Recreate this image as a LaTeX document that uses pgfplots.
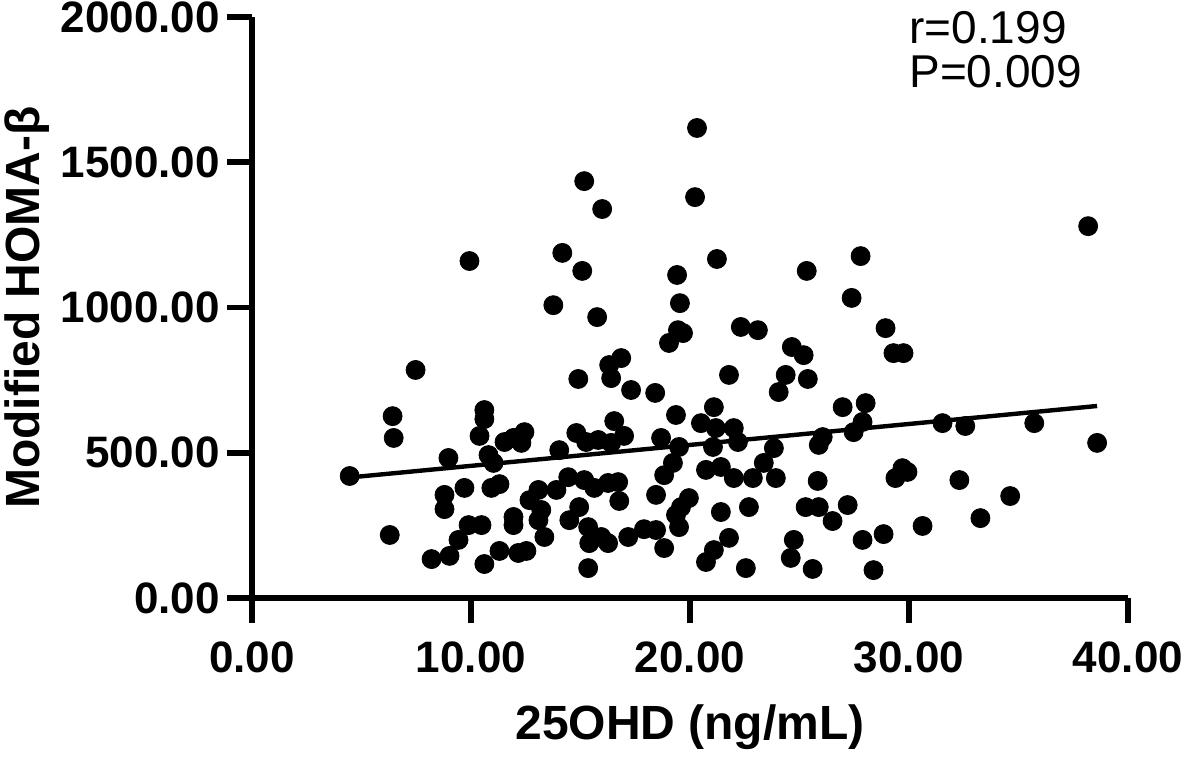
\documentclass[border=0pt]{standalone}
\usepackage{pgfplots}
\pgfplotsset{compat=1.18}
\usepackage{fontspec}
\setmainfont{Liberation Sans}
\begin{document}
\begin{tikzpicture}
\useasboundingbox (-126pt,-79.5pt) rectangle (464.5pt,299pt);
\begin{axis}[
  at={(0,0)}, anchor=south west,
  scale only axis, width=438pt, height=290.5pt,
  xmin=0, xmax=40, ymin=0, ymax=2000,
  axis x line=bottom, axis y line=left,
  axis line style={-, line width=2.8pt},
  xtick={0,10,20,30,40}, xticklabels={0.00,10.00,20.00,30.00,40.00},
  ytick={0,500,1000,1500,2000}, yticklabels={0.00,500.00,1000.00,1500.00,2000.00},
  tick align=outside, major tick length=12.5pt,
  tick style={line width=2.8pt, black},
  ticklabel style={font=\fontsize{22}{26}\selectfont\bfseries},
  xticklabel style={yshift=-6pt},
  xlabel={25OHD (ng/mL)}, ylabel={Modified HOMA-β},
  label style={font=\fontsize{24}{28}\selectfont\bfseries},
  xlabel style={at={(axis description cs:0.5,-0.243)}, anchor=base},
  ylabel style={at={(axis description cs:-0.243,0.5)}, anchor=base},
  clip=false,
]
\addplot[only marks, mark=*, mark size=4.75pt, black] coordinates {
(4.46,420) (6.29,217) (6.42,626) (6.47,551) (7.47,785) (8.97,482) (8.79,355) (8.79,306)
(9.70,379) (8.20,134) (9.02,145) (9.43,200) (9.89,251) (10.48,251) (9.93,1160) (10.61,647)
(10.61,616) (10.39,558) (10.80,492) (11.03,465) (10.93,379) (11.30,392) (10.61,117) (11.30,162)
(11.53,537) (11.94,551) (12.44,571) (12.30,534) (11.94,279) (11.94,251) (12.16,155) (12.53,162)
(12.67,337) (13.08,372) (13.21,303) (13.08,268) (13.90,372) (13.35,210) (14.03,509) (13.76,1008)
(14.17,1188) (15.08,1126) (15.17,1435) (15.99,1339) (15.76,967) (14.90,754) (14.81,568) (14.44,416)
(15.17,406) (15.63,379) (14.94,313) (14.49,268) (15.35,244) (15.40,189) (15.35,103) (15.26,537)
(15.81,544) (16.31,802) (16.86,826) (16.40,757) (16.54,609) (16.99,558) (16.40,534) (16.26,396)
(16.72,399) (16.77,334) (15.95,210) (16.26,189) (17.18,210) (17.90,237) (18.45,234) (18.82,172)
(17.31,716) (18.41,706) (18.45,355) (18.68,551) (19.04,878) (19.45,922) (19.68,912) (19.54,1015)
(19.41,1112) (20.23,1380) (20.32,1618) (19.36,630) (19.50,520) (19.22,465) (18.82,423) (19.95,344)
(19.59,313) (19.36,286) (19.50,244) (21.09,657) (20.50,602) (21.18,585) (21.05,520) (22.00,585)
(22.19,537) (20.73,441) (21.41,451) (22.00,413) (21.41,296) (21.23,1167) (21.78,768) (22.32,933)
(23.10,922) (22.87,413) (23.37,465) (23.92,413) (23.83,516) (22.69,313) (21.78,207) (21.09,165)
(20.73,124) (22.55,103) (24.37,768) (24.05,709) (25.38,754) (24.65,864) (25.19,836) (25.33,1126)
(24.74,200) (24.60,138) (25.60,100) (25.28,313) (25.88,313) (25.83,403) (26.06,554) (25.88,527)
(26.51,265) (27.20,320) (26.97,657) (28.02,671) (27.88,606) (27.47,571) (27.38,1033) (27.79,1177)
(27.88,200) (28.84,220) (28.38,96) (28.93,929) (29.29,843) (29.75,843) (29.38,413) (29.70,447)
(29.93,434) (30.62,248) (31.53,602) (32.57,592) (32.30,406) (33.26,275) (34.62,351) (35.72,602)
(38.59,534) (38.18,1280)
};
\addplot[black, line width=2.2pt] coordinates {(4.46,415) (38.59,661)};
\node[anchor=base west, inner sep=0pt, font=\fontsize{23}{26}\selectfont] at (axis cs:30,1910) {r=0.199};
\node[anchor=base west, inner sep=0pt, font=\fontsize{23}{26}\selectfont] at (axis cs:30,1759) {P=0.009};
\end{axis}
\end{tikzpicture}
\end{document}
